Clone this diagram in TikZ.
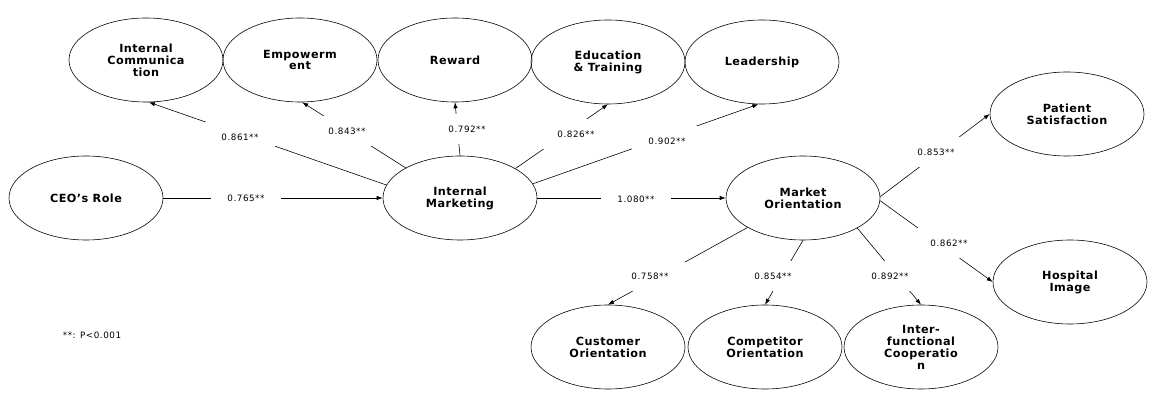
\documentclass[tikz,border=0pt]{standalone}
\usepackage{fontspec}
\setmainfont{DejaVu Sans}
\newfontfamily\consfont{DejaVu Sans}[LetterSpace=4]
\newfontfamily\coeffont{DejaVu Sans}[LetterSpace=6]
\usepackage{tikz}
\usetikzlibrary{shapes.geometric,arrows.meta}

\begin{document}
\begin{tikzpicture}[x=0.03cm, y=-0.03cm,
		construct/.style={draw, ellipse, line width=0.5pt, inner sep=0pt, minimum width=4.62cm, minimum height=2.52cm, align=center, font=\consfont\fontsize{9.6}{10.2}\selectfont\bfseries},
		coef/.style={fill=white, inner xsep=0.48cm, inner ysep=0.35cm, font=\coeffont\fontsize{7.5}{8.4}\selectfont},
		effect/.style={line width=0.5pt, -{Latex[length=1.8mm, width=1.3mm]}}]
		\useasboundingbox (0,0) rectangle (1166,401);

		\node[construct] (ic) at (146,60) {Internal\\Communica\\tion};
		\node[construct] (emp) at (300,60) {Empowerm\\ent};
		\node[construct] (rw) at (455,60) {Reward};
		\node[construct] (edu) at (608,62) {Education\\\& Training};
		\node[construct] (lead) at (762,62) {Leadership};

		\node[construct] (ceo) at (86,198) {CEO’s Role};
		\node[construct] (im) at (460,198) {Internal\\Marketing};
		\node[construct] (mo) at (803,198) {Market\\Orientation};

		\node[construct] (ps) at (1067,114) {Patient\\Satisfaction};
		\node[construct] (hi) at (1070,282) {Hospital\\Image};

		\node[construct] (co) at (608,347) {Customer\\Orientation};
		\node[construct] (cp) at (765,347) {Competitor\\Orientation};
		\node[construct] (ifc) at (921,347) {Inter-\\functional\\Cooperatio\\n};

		\draw[effect] (ceo.east) -- (im.west);
		\draw[effect] (im.east) -- (mo.west);
		\draw[effect] (im.170) -- (ic.-86);
		\draw[effect] (im.151) -- (emp.-87);
		\draw[effect] (im.north) -- (rw.south);
		\draw[effect] (im.28) -- (edu.south);
		\draw[effect] (im.11) -- (lead.-95);
		\draw[effect] (mo.1) -- (ps.west);
		\draw[effect] (mo.-2) -- (hi.west);
		\draw[effect] (mo.208) -- (co.north);
		\draw[effect] (mo.south) -- (cp.north);
		\draw[effect] (mo.-29) -- (ifc.north);

		\node[coef] (c765) at (246,198) {0.765**};
		\node[coef] (c1080) at (636,199) {1.080**};
		\node[coef] (c861) at (240,137) {0.861**};
		\node[coef] (c843) at (347,131) {0.843**};
		\node[coef] (c792) at (467,129) {0.792**};
		\node[coef] (c826) at (576,134) {0.826**};
		\node[coef] (c902) at (667,141) {0.902**};
		\node[coef] (c853) at (936,152) {0.853**};
		\node[coef] (c862) at (949,243) {0.862**};
		\node[coef] (c758) at (650,276) {0.758**};
		\node[coef] (c854) at (773,276) {0.854**};
		\node[coef] (c892) at (890,276) {0.892**};

		\node[font=\coeffont\fontsize{7.5}{8.4}\selectfont] (note) at (92,335) {**: P<0.001};
	\end{tikzpicture}
\end{document}
